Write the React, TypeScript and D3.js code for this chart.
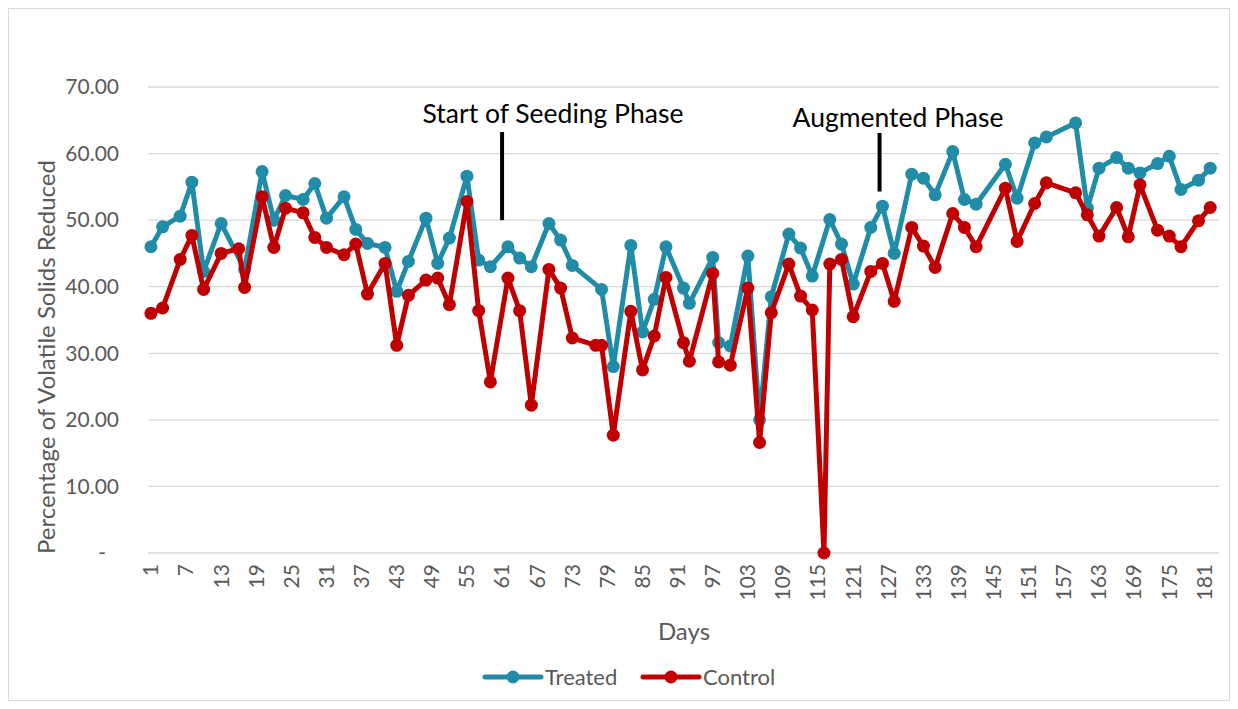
import React, { useEffect, useRef } from "react";
import * as d3 from "d3";

// days that have a measurement (category axis runs 1..183)
const days = [
  1, 3, 6, 8, 10, 13, 16, 17, 20, 22, 24, 27, 29, 31, 34, 36, 38, 41, 43, 45,
  48, 50, 52, 55, 57, 59, 62, 64, 66, 69, 71, 73, 77, 78, 80, 83, 85, 87, 89,
  92, 93, 97, 98, 100, 103, 105, 107, 110, 112, 114, 116, 117, 119, 121, 124,
  126, 128, 131, 133, 135, 138, 140, 142, 147, 149, 152, 154, 159, 161, 163,
  166, 168, 170, 173, 175, 177, 180, 182,
];

const treated = [
  46.0, 49.0, 50.6, 55.7, 42.3, 49.5, null, 42.6, 57.3, 50.0, 53.7, 53.1, 55.5,
  50.3, 53.5, 48.6, 46.5, 45.9, 39.3, 43.8, 50.3, 43.5, 47.3, 56.6, 44.0, 43.0,
  46.0, 44.3, 43.0, 49.5, 47.0, 43.2, null, 39.6, 28.0, 46.2, 33.2, 38.1, 46.0,
  39.8, 37.5, 44.4, 31.6, 31.1, 44.6, 20.0, 38.5, 47.9, 45.8, 41.6, null, 50.1,
  46.4, 40.4, 48.9, 52.1, 45.0, 56.9, 56.3, 53.8, 60.3, 53.1, 52.4, 58.4, 53.3,
  61.6, 62.5, 64.6, 51.8, 57.8, 59.4, 57.8, 57.1, 58.5, 59.6, 54.6, 56.0, 57.8,
];

const control = [
  36.0, 36.8, 44.1, 47.7, 39.6, 45.0, 45.7, 39.9, 53.5, 45.9, 51.8, 51.1, 47.4,
  45.9, 44.8, 46.4, 38.9, 43.5, 31.2, 38.7, 41.0, 41.3, 37.3, 52.8, 36.4, 25.7,
  41.3, 36.4, 22.2, 42.6, 39.8, 32.3, 31.2, 31.2, 17.7, 36.3, 27.5, 32.6, 41.4,
  31.6, 28.8, 42.0, 28.7, 28.2, 39.8, 16.6, 36.1, 43.4, 38.6, 36.5, 0, 43.4,
  44.1, 35.5, 42.3, 43.5, 37.8, 48.9, 46.1, 42.9, 51.0, 48.9, 46.0, 54.8, 46.8,
  52.5, 55.6, 54.1, 50.8, 47.6, 51.9, 47.5, 55.3, 48.5, 47.6, 46.0, 49.9, 51.9,
];

const xTickDays = [
  1, 7, 13, 19, 25, 31, 37, 43, 49, 55, 61, 67, 73, 79, 85, 91, 97, 103, 109,
  115, 121, 127, 133, 139, 145, 151, 157, 163, 169, 175, 181,
];
const yTicks = [0, 10, 20, 30, 40, 50, 60, 70];

const seriesNames = ["Treated", "Control"];
const seriesColors = ["#218CA8", "#C00000"];

const phaseLabels = ["Start of Seeding Phase", "Augmented Phase"];
const phaseDays = [61, 125.5];

const W = 1238,
  H = 709;
const plot = { left: 148, right: 1219, top: 87, bottom: 553 };
const FONT = "Lato, 'Open Sans', sans-serif";
const GREY = "#595959";

const App = () => {
  const ref = useRef<SVGSVGElement>(null);

  useEffect(() => {
    const svg = d3.select(ref.current);
    svg.selectAll("*").remove();

    const x = d3
      .scaleBand<number>()
      .domain(d3.range(1, 184))
      .range([plot.left, plot.right]);
    const cx = (d: number) => (x(d) as number) + x.bandwidth() / 2;
    const xLin = d3
      .scaleLinear()
      .domain([1, 183])
      .range([cx(1), cx(183)]);

    const y = d3.scaleLinear().domain([0, 70]).range([plot.bottom, plot.top]);

    // chart area border
    svg
      .append("rect")
      .attr("x", 8.5)
      .attr("y", 8.5)
      .attr("width", W - 17)
      .attr("height", H - 17)
      .attr("fill", "#fff")
      .attr("stroke", "#d9d9d9");

    // gridlines
    svg
      .append("g")
      .selectAll("line")
      .data(yTicks)
      .enter()
      .append("line")
      .attr("x1", plot.left)
      .attr("x2", plot.right)
      .attr("y1", (d) => y(d))
      .attr("y2", (d) => y(d))
      .attr("stroke", "#d9d9d9")
      .attr("stroke-width", 1.3);

    // y axis labels
    const yAxis = svg
      .append("g")
      .attr("transform", `translate(${plot.left},0)`)
      .call(
        d3
          .axisLeft(y)
          .tickValues(yTicks)
          .tickSize(0)
          .tickPadding(29)
          .tickFormat((d: any) => (d === 0 ? "-" : d3.format(".2f")(d)))
      );
    yAxis.select(".domain").remove();
    yAxis
      .selectAll(".tick text")
      .attr("fill", GREY)
      .style("font-family", FONT)
      .style("font-size", "21px")
      .attr("x", (d: any) => (d === 0 ? -42 : -29));

    // x axis labels (rotated)
    const xAxis = svg
      .append("g")
      .attr("transform", `translate(0,${plot.bottom})`)
      .call(d3.axisBottom(x).tickValues(xTickDays).tickSize(0));
    xAxis.select(".domain").remove();
    xAxis
      .selectAll(".tick text")
      .attr("fill", GREY)
      .style("font-family", FONT)
      .style("font-size", "21px")
      .attr("transform", "rotate(-90)")
      .attr("text-anchor", "end")
      .attr("x", -11)
      .attr("y", 0)
      .attr("dy", "0.35em");

    // axis titles
    svg
      .append("text")
      .attr("transform", `translate(47,357) rotate(-90)`)
      .attr("text-anchor", "middle")
      .attr("dy", "0.35em")
      .attr("fill", GREY)
      .style("font-family", FONT)
      .style("font-size", "24px")
      .text("Percentage of Volatile Solids Reduced");

    svg
      .append("text")
      .attr("x", 684)
      .attr("y", 640)
      .attr("text-anchor", "middle")
      .attr("fill", GREY)
      .style("font-family", FONT)
      .style("font-size", "24px")
      .text("Days");

    // series
    const allSeries = [treated, control];
    const line = d3
      .line<[number, number]>()
      .x((d) => cx(d[0]))
      .y((d) => y(d[1]));

    allSeries.forEach((vals, i) => {
      const pts: [number, number][] = [];
      vals.forEach((v, j) => {
        if (v !== null) pts.push([days[j], v]);
      });
      const g = svg.append("g").attr("class", "series");
      g.append("path")
        .attr("d", line(pts))
        .attr("fill", "none")
        .attr("stroke", seriesColors[i])
        .attr("stroke-width", 5)
        .attr("stroke-linejoin", "round")
        .attr("stroke-linecap", "round");
      g.selectAll("circle")
        .data(pts)
        .enter()
        .append("circle")
        .attr("cx", (d) => cx(d[0]))
        .attr("cy", (d) => y(d[1]))
        .attr("r", 6.5)
        .attr("fill", seriesColors[i]);
    });

    // phase annotations
    const labelY = [123, 127];
    const barTop = [132, 133];
    const barBottom = [50, 54.3];
    const labelX = [553, 898];
    phaseLabels.forEach((lab, i) => {
      svg
        .append("text")
        .attr("x", labelX[i])
        .attr("y", labelY[i])
        .attr("text-anchor", "middle")
        .attr("fill", "#000")
        .style("font-family", FONT)
        .style("font-size", "26.5px")
        .text(lab);
      svg
        .append("line")
        .attr("x1", xLin(phaseDays[i]))
        .attr("x2", xLin(phaseDays[i]))
        .attr("y1", barTop[i])
        .attr("y2", y(barBottom[i]))
        .attr("stroke", "#000")
        .attr("stroke-width", 4);
    });

    // legend
    const legendX = [485, 643];
    const legendY = 677;
    seriesNames.forEach((name, i) => {
      const g = svg
        .append("g")
        .attr("transform", `translate(${legendX[i]},${legendY})`);
      g.append("line")
        .attr("x1", 0)
        .attr("x2", 56)
        .attr("stroke", seriesColors[i])
        .attr("stroke-width", 5)
        .attr("stroke-linecap", "round");
      g.append("circle")
        .attr("cx", 28)
        .attr("r", 6.5)
        .attr("fill", seriesColors[i]);
      g.append("text")
        .attr("x", 60)
        .attr("dy", "0.35em")
        .attr("fill", GREY)
        .style("font-family", FONT)
        .style("font-size", "22px")
        .text(name);
    });
  }, []);

  return (
    <svg
      ref={ref}
      width={W}
      height={H}
      style={{ position: "absolute", left: 0, top: 0, background: "#fff" }}
    />
  );
};

export default App;
